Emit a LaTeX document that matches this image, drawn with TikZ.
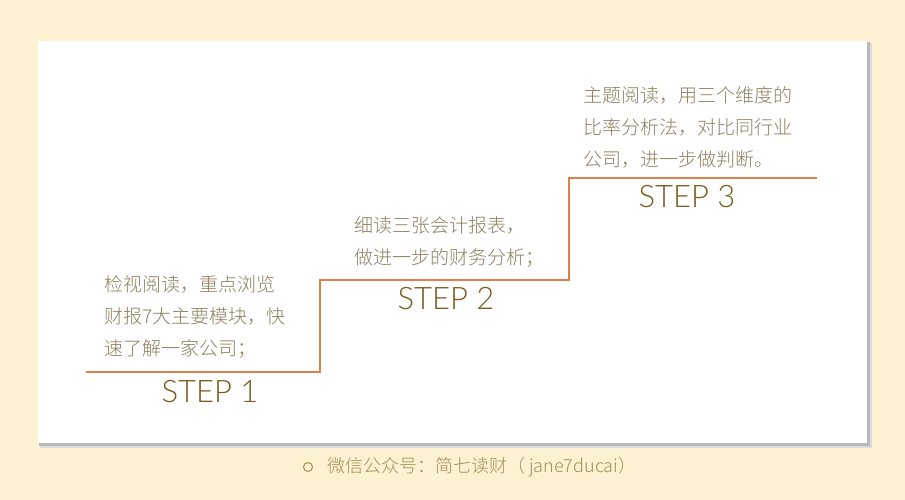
\documentclass[tikz,border=0pt]{standalone}
\usepackage{fontspec}
\IfFontExistsTF{Lato Light}{\setmainfont{Lato Light}}{\setmainfont{Lato}}
\IfFontExistsTF{Noto Sans CJK SC Light}{\newfontfamily\cjk{Noto Sans CJK SC Light}}{\newfontfamily\cjk{Noto Sans CJK SC}}
\definecolor{bgcol}{HTML}{FCF1D0}
\definecolor{linecol}{HTML}{DE8049}
\definecolor{txtcol}{HTML}{907F5E}
\definecolor{stepcol}{HTML}{7B5B1F}
\definecolor{footcol}{HTML}{A58E58}
\tikzset{
  body/.style={anchor=west, inner sep=0pt, align=left, text=txtcol, font={\cjk\fontsize{19}{32}\selectfont}},
  steplabel/.style={inner sep=0pt, text=stepcol, font={\fontsize{31}{36}\selectfont}},
  stair/.style={draw=linecol, line width=2pt},
}
\begin{document}
\begin{tikzpicture}[x=1pt, y=-1pt]
\useasboundingbox (0,0) rectangle (905,500);
\fill[bgcol] (0,0) rectangle (905,500);
% card shadow
\fill[black!14] (40,43) rectangle (872,448);
\fill[black!28] (39,42) rectangle (870,446);
\fill[white] (38,41) rectangle (867,443);
% stair line
\coordinate (s0) at (86,372);
\coordinate (s1) at (320,372);
\coordinate (s2) at (320,280);
\coordinate (s3) at (569,280);
\coordinate (s4) at (569,178);
\coordinate (s5) at (817,178);
\draw[stair] (s0) -- (s1) -- (s2) -- (s3) -- (s4) -- (s5);
% texts
\node[body] (t1) at (104,317) {检视阅读，重点浏览\\财报7大主要模块，快\\速了解一家公司；};
\node[body] (t2) at (354,242) {细读三张会计报表，\\做进一步的财务分析；};
\node[body] (t3) at (583,127) {主题阅读，用三个维度的\\比率分析法，对比同行业\\公司，进一步做判断。};
\node[steplabel] (l1) at (210,392) {STEP 1};
\node[steplabel] (l2) at (446,299) {STEP 2};
\node[steplabel] (l3) at (687,197) {STEP 3};
% footer
\node[draw=footcol, circle, line width=1pt, minimum size=9pt, inner sep=0pt] (dot) at (308,467) {};
\node[anchor=west, inner sep=0pt, text=footcol, font={\cjk\fontsize{18}{22}\selectfont}] (foot) at (327,467) {微信公众号：简七读财（ jane7ducai）};
\end{tikzpicture}
\end{document}
